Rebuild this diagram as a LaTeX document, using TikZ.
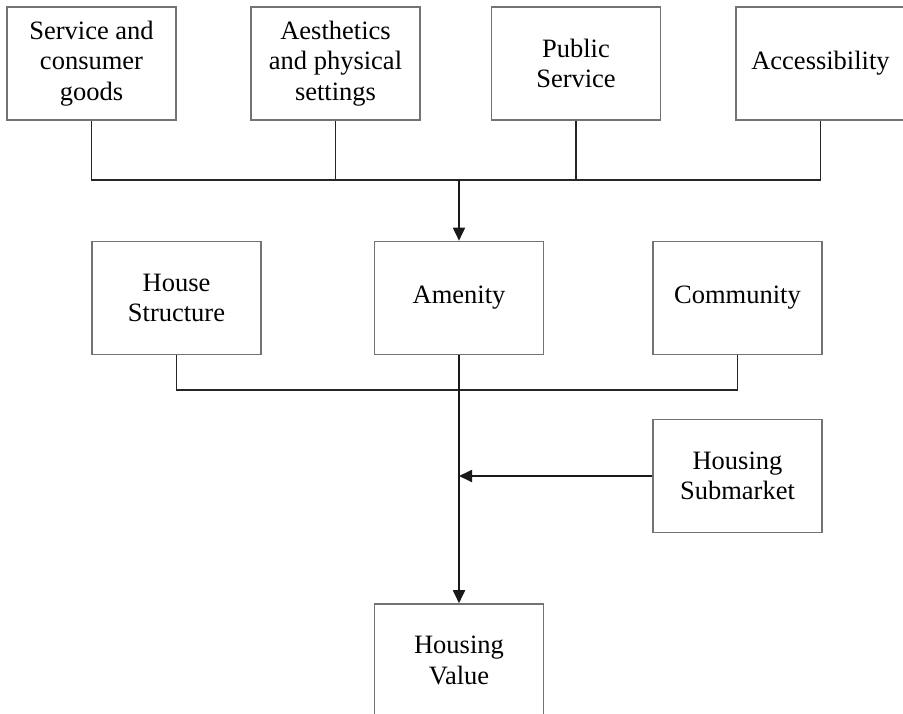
\documentclass[tikz,border=0pt]{standalone}
\usepackage{fontspec}
\setmainfont{Liberation Serif}
\usepackage{tikz}
\usetikzlibrary{arrows.meta}

\tikzset{
    factor/.style={draw=black!55, line width=1.6pt, fill=white, minimum width=169pt,
        minimum height=113pt, inner sep=0pt, align=center,
        font=\fontsize{26.5}{30.5}\selectfont},
    link/.style={draw=black!85, line width=1.1pt},
    flow/.style={draw=black!90, line width=1.8pt, -{Triangle[width=12pt,length=13pt]}}
}

\begin{document}
\begin{tikzpicture}[x=1pt, y=-1pt]
    \useasboundingbox (0,0) rectangle (903,713);

    % top row
    \node[factor] (svc) at (91.5,63.5) {Service and\\consumer\\goods};
    \node[factor] (aes) at (335.5,63.5) {Aesthetics\\and physical\\settings};
    \node[factor] (pub) at (576,63.5) {Public\\Service};
    \node[factor] (acc) at (820.5,63.5) {Accessibility};

    % middle row
    \node[factor] (house) at (176.5,298) {House\\Structure};
    \node[factor] (amen) at (459,298) {Amenity};
    \node[factor] (comm) at (737.5,298) {Community};

    \node[factor] (sub) at (737.5,476) {Housing\\Submarket};
    \node[factor] (value) at (459,660.5) {Housing\\Value};

    \coordinate (topbus) at (459,180);
    \coordinate (lowbus) at (459,390);
    \coordinate (join) at (amen.south |- sub.west);

    \draw[link] (svc.south) |- (topbus) -| (acc.south);
    \draw[link] (aes.south) -- (aes.south |- topbus);
    \draw[link] (pub.south) -- (pub.south |- topbus);
    \draw[flow] (topbus) -- (amen.north);

    \draw[link] (house.south) |- (lowbus) -| (comm.south);
    \draw[flow] (amen.south) -- (value.north);
    \draw[flow] (sub.west) -- (join);

\end{tikzpicture}
\end{document}
